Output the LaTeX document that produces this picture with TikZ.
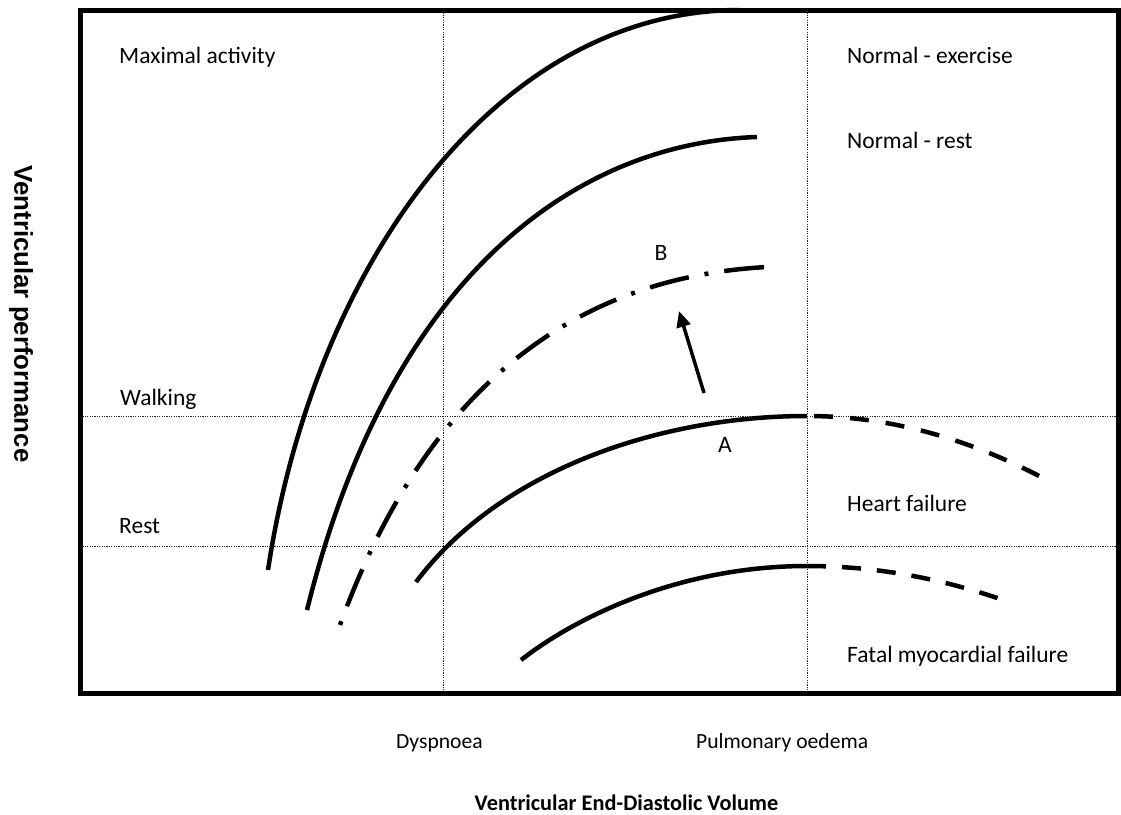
\documentclass[tikz,border=0pt]{standalone}
\usepackage{fontspec}
\setmainfont{Carlito}
\newfontfamily\arialfont{Liberation Sans}
\usetikzlibrary{arrows.meta}
\begin{document}
\begin{tikzpicture}[x=1pt,y=-1pt,
  curve/.style={line width=4.5pt},
  dotline/.style={line width=1pt, black!85, dash pattern=on 1.2pt off 1.2pt},
  lbl/.style={anchor=base west, inner sep=0pt, font=\fontsize{23.5}{28}\selectfont},
  axlbl/.style={anchor=base west, inner sep=0pt, font=\fontsize{21.6}{26}\selectfont},
  clbl/.style={anchor=base, inner sep=0pt, font=\fontsize{23.5}{28}\selectfont},
]
\useasboundingbox (0,0) rectangle (1121,814);
\fill[white] (0,0) rectangle (1121,814);

% reference lines
\draw[dotline] (443,10) -- (443,693);
\draw[dotline] (807,10) -- (807,693);
\draw[dotline] (80,416) -- (1118,416);
\draw[dotline] (80,546) -- (1118,546);

% curves
\coordinate (c1s) at (268,570);
\coordinate (c1e) at (740,10);
\draw[curve] (c1s) .. controls (315,260) and (500,10) .. (c1e);

\coordinate (c2s) at (307,610);
\coordinate (c2e) at (757,137);
\draw[curve] (c2s) .. controls (391,270) and (580,143) .. (c2e);

\coordinate (cbs) at (340,625);
\coordinate (cbe) at (767,267);
\draw[curve, dash pattern=on 4pt off 16pt on 40pt off 16pt] (cbs) .. controls (442,343) and (620,275) .. (cbe);

\coordinate (cas) at (416,582);
\coordinate (cap) at (807,416);
\coordinate (cae) at (1043,478);
\draw[curve] (cas) .. controls (500,470) and (660,416) .. (cap);
\draw[curve, dash pattern=on 19pt off 17pt, dash phase=29pt] (cap) .. controls (885.7,416) and (964.3,436.7) .. (cae);

\coordinate (cfs) at (521,660);
\coordinate (cfp) at (807,566);
\coordinate (cfe) at (1003,600);
\draw[curve] (cfs) .. controls (576,617) and (680,566) .. (cfp);
\draw[curve, dash pattern=on 19pt off 16pt] (cfp) .. controls (872.3,566) and (937.7,577.3) .. (cfe);

% arrow
\coordinate (arrS) at (704,393);
\coordinate (arrE) at (679,311);
\draw[line width=3.5pt, -{Triangle[length=16pt,width=14pt]}] (arrS) -- (arrE);

% frame
\draw[line width=5pt] (80.5,10) rectangle (1118.5,693);

% labels
\node[lbl] (maxact) at (119,63) {Maximal activity};
\node[lbl] (normex) at (847,63) {Normal - exercise};
\node[lbl] (normrest) at (847,148) {Normal - rest};
\node[lbl] (walking) at (120,405) {Walking};
\node[lbl] (rest) at (119,533) {Rest};
\node[lbl] (hf) at (847,511) {Heart failure};
\node[lbl] (fatal) at (847,662) {Fatal myocardial failure};
\node[axlbl] (dysp) at (396,748) {Dyspnoea};
\node[axlbl] (pulm) at (696,748) {Pulmonary oedema};
\node[clbl] (labA) at (725,452) {A};
\node[clbl] (labB) at (661,260) {B};
\node[anchor=base, inner sep=0pt, font=\bfseries\fontsize{22.3}{27}\selectfont] (xlab) at (626.5,810) {Ventricular End-Diastolic Volume};
\node[rotate=-90, inner sep=0pt, font=\arialfont\bfseries\fontsize{25.8}{31}\selectfont] (ylab) at (21,314) {Ventricular performance};
\end{tikzpicture}
\end{document}
